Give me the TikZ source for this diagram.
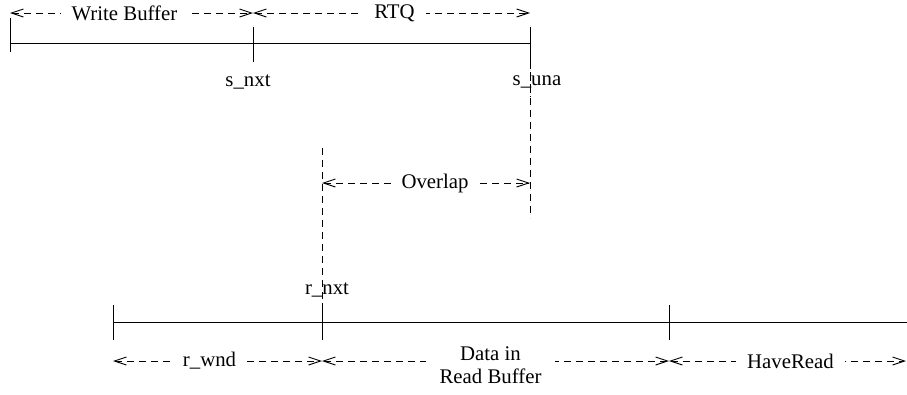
\documentclass[tikz,border=0pt]{standalone}
\usepackage{fontspec}
\setmainfont{Liberation Serif}
\usetikzlibrary{arrows.meta}
\begin{document}
\begin{tikzpicture}[x=1pt,y=-1pt,
  baseline/.style={line width=0.9pt},
  guide/.style={line width=0.9pt, dash pattern=on 7pt off 5pt},
  dim/.style={line width=0.9pt, dash pattern=on 7pt off 5pt,
    {Straight Barb[length=12pt,width=8pt]}-{Straight Barb[length=12pt,width=8pt]}},
  lbl/.style={font=\fontsize{20.8}{23}\selectfont, inner sep=1pt},
  dimlbl/.style={lbl, fill=white, inner xsep=11pt, align=center}]
\useasboundingbox (0,0) rectangle (907,394);
% top scale
\coordinate (wl) at (10,43);
\coordinate (sn) at (253,43);
\coordinate (su) at (530,43);
\draw[baseline] (wl) -- (su);
\draw[baseline] (10,18) -- (10,52);
\draw[baseline] (253,27) -- (253,62);
\draw[baseline] (530,27) -- (530,62);
\coordinate (suEnd) at (530,218);
\draw[guide] (530,62) -- (suEnd);
\coordinate (a1) at (10,13);
\coordinate (a2) at (253,13);
\coordinate (a3) at (530,13);
\draw[dim] (a1) -- node[dimlbl, xshift=-7pt] (wb) {Write Buffer} (a2);
\draw[dim] (a2) -- node[dimlbl, xshift=3pt] (rtq) {RTQ} (a3);
\node[lbl] (snl) at (248,82) {s\_nxt};
\node[lbl] (sul) at (537,82) {s\_una};
\draw[guide] (530,72) -- (530,97);
% overlap
\coordinate (o1) at (322,183);
\coordinate (o2) at (530,183);
\draw[dim] (o1) -- node[dimlbl, xshift=9pt] (ov) {Overlap} (o2);
% r_nxt
\node[lbl] (rnl) at (327,290) {r\_nxt};
\coordinate (rnTop) at (322,148);
\draw[guide] (rnTop) -- (322,305);
% bottom scale
\coordinate (bl) at (113,322);
\coordinate (br) at (907,322);
\draw[baseline] (bl) -- (br);
\draw[baseline] (113,305) -- (113,340);
\draw[baseline] (322,303) -- (322,340);
\draw[baseline] (669,305) -- (669,340);
\coordinate (b1) at (113,361);
\coordinate (b2) at (322,361);
\coordinate (b3) at (669,361);
\coordinate (b4) at (906,361);
\draw[dim] (b1) -- node[dimlbl, xshift=-8pt] (rw) {r\_wnd} (b2);
\draw[dim] (b2) -- node[dimlbl, yshift=-4pt, xshift=-5pt, inner xsep=14pt] (dr) {Data in\\Read Buffer} (b3);
\draw[dim] (b3) -- node[dimlbl, xshift=3pt] (hr) {HaveRead} (b4);
\end{tikzpicture}
\end{document}
